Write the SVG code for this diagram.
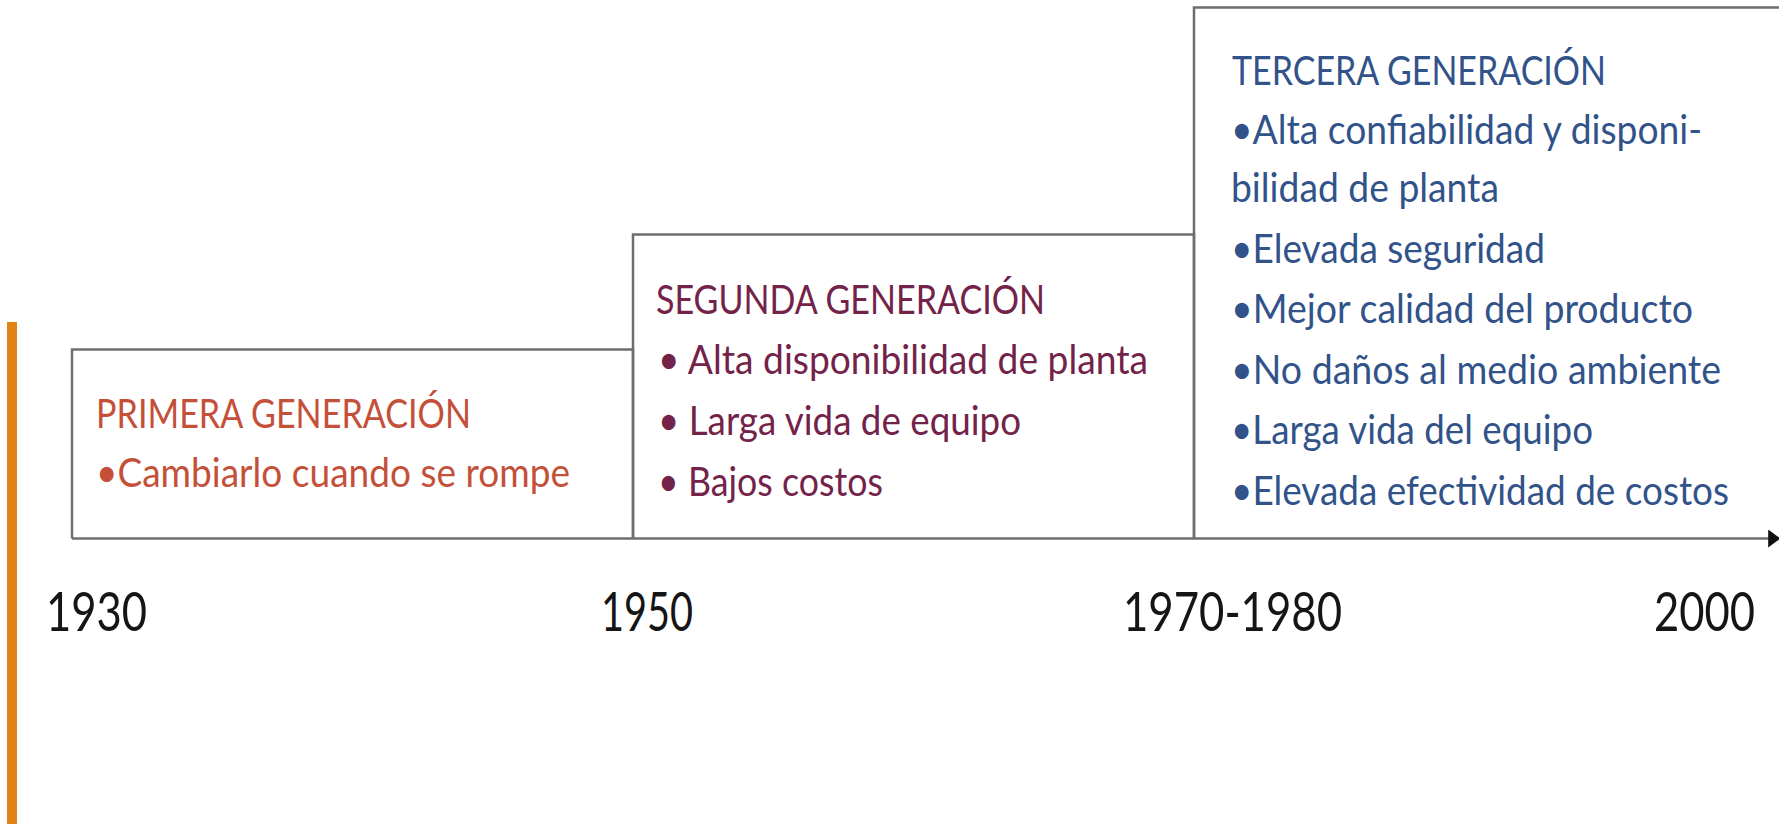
<svg xmlns="http://www.w3.org/2000/svg" width="1779" height="824" viewBox="0 0 1779 824">
<defs>
<style>
.box{fill:none;stroke:#6e6e6e;stroke-width:2.5}
.t{font-family:Lato,"Open Sans","Liberation Sans",sans-serif;font-size:40px}
.p{fill:#c4503a}
.s{fill:#73234a}
.g{fill:#31538a}
.y{font-family:Lato,"Liberation Sans",sans-serif;font-size:54px;fill:#151515}
</style>
<marker id="arr" viewBox="0 0 10 10" refX="9" refY="5" markerWidth="12" markerHeight="18" markerUnits="userSpaceOnUse" orient="auto" preserveAspectRatio="none">
<path d="M0,0 L10,5 L0,10 z" fill="#111"/>
</marker>
</defs>
<rect width="1779" height="824" fill="#fff"/>
<rect id="accent" x="7" y="322" width="10" height="502" fill="#e08214"/>
<g id="connectors">
<line x1="72" y1="538.5" x2="1779" y2="538.5" stroke="#6e6e6e" stroke-width="2.5" marker-end="url(#arr)"/>
</g>
<g id="primera">
<path class="box" d="M633,538.5 V349.5 H72 V538.5"/>
<text class="t p" x="96" y="428" textLength="375" lengthAdjust="spacingAndGlyphs">PRIMERA GENERACIÓN</text>
<text class="t p" x="96" y="487" textLength="474" lengthAdjust="spacingAndGlyphs">•Cambiarlo cuando se rompe</text>
</g>
<g id="segunda">
<path class="box" d="M633,538.5 V234.5 H1194 V538.5"/>
<text class="t s" x="656" y="314" textLength="389" lengthAdjust="spacingAndGlyphs">SEGUNDA GENERACIÓN</text>
<text class="t s" x="658" y="374" textLength="490" lengthAdjust="spacingAndGlyphs">• Alta disponibilidad de planta</text>
<text class="t s" x="658" y="435" textLength="363" lengthAdjust="spacingAndGlyphs">• Larga vida de equipo</text>
<text class="t s" x="658" y="496" textLength="225" lengthAdjust="spacingAndGlyphs">• Bajos costos</text>
</g>
<g id="tercera">
<path class="box" d="M1194,538.5 V7.5 H1779"/>
<text class="t g" x="1232" y="85" textLength="374" lengthAdjust="spacingAndGlyphs">TERCERA GENERACIÓN</text>
<text class="t g" x="1231" y="144" textLength="471" lengthAdjust="spacingAndGlyphs">•Alta confiabilidad y disponi-</text>
<text class="t g" x="1231" y="202" textLength="268" lengthAdjust="spacingAndGlyphs">bilidad de planta</text>
<text class="t g" x="1231" y="263" textLength="314" lengthAdjust="spacingAndGlyphs">•Elevada seguridad</text>
<text class="t g" x="1231" y="323" textLength="462" lengthAdjust="spacingAndGlyphs">•Mejor calidad del producto</text>
<text class="t g" x="1231" y="384" textLength="490" lengthAdjust="spacingAndGlyphs">•No daños al medio ambiente</text>
<text class="t g" x="1231" y="444" textLength="362" lengthAdjust="spacingAndGlyphs">•Larga vida del equipo</text>
<text class="t g" x="1231" y="505" textLength="498" lengthAdjust="spacingAndGlyphs">•Elevada efectividad de costos</text>
</g>
<g id="years">
<text class="y" x="46" y="631" textLength="101" lengthAdjust="spacingAndGlyphs">1930</text>
<text class="y" x="601" y="631" textLength="92" lengthAdjust="spacingAndGlyphs">1950</text>
<text class="y" x="1123" y="631" textLength="219" lengthAdjust="spacingAndGlyphs">1970-1980</text>
<text class="y" x="1654" y="631" textLength="101" lengthAdjust="spacingAndGlyphs">2000</text>
</g>
</svg>
